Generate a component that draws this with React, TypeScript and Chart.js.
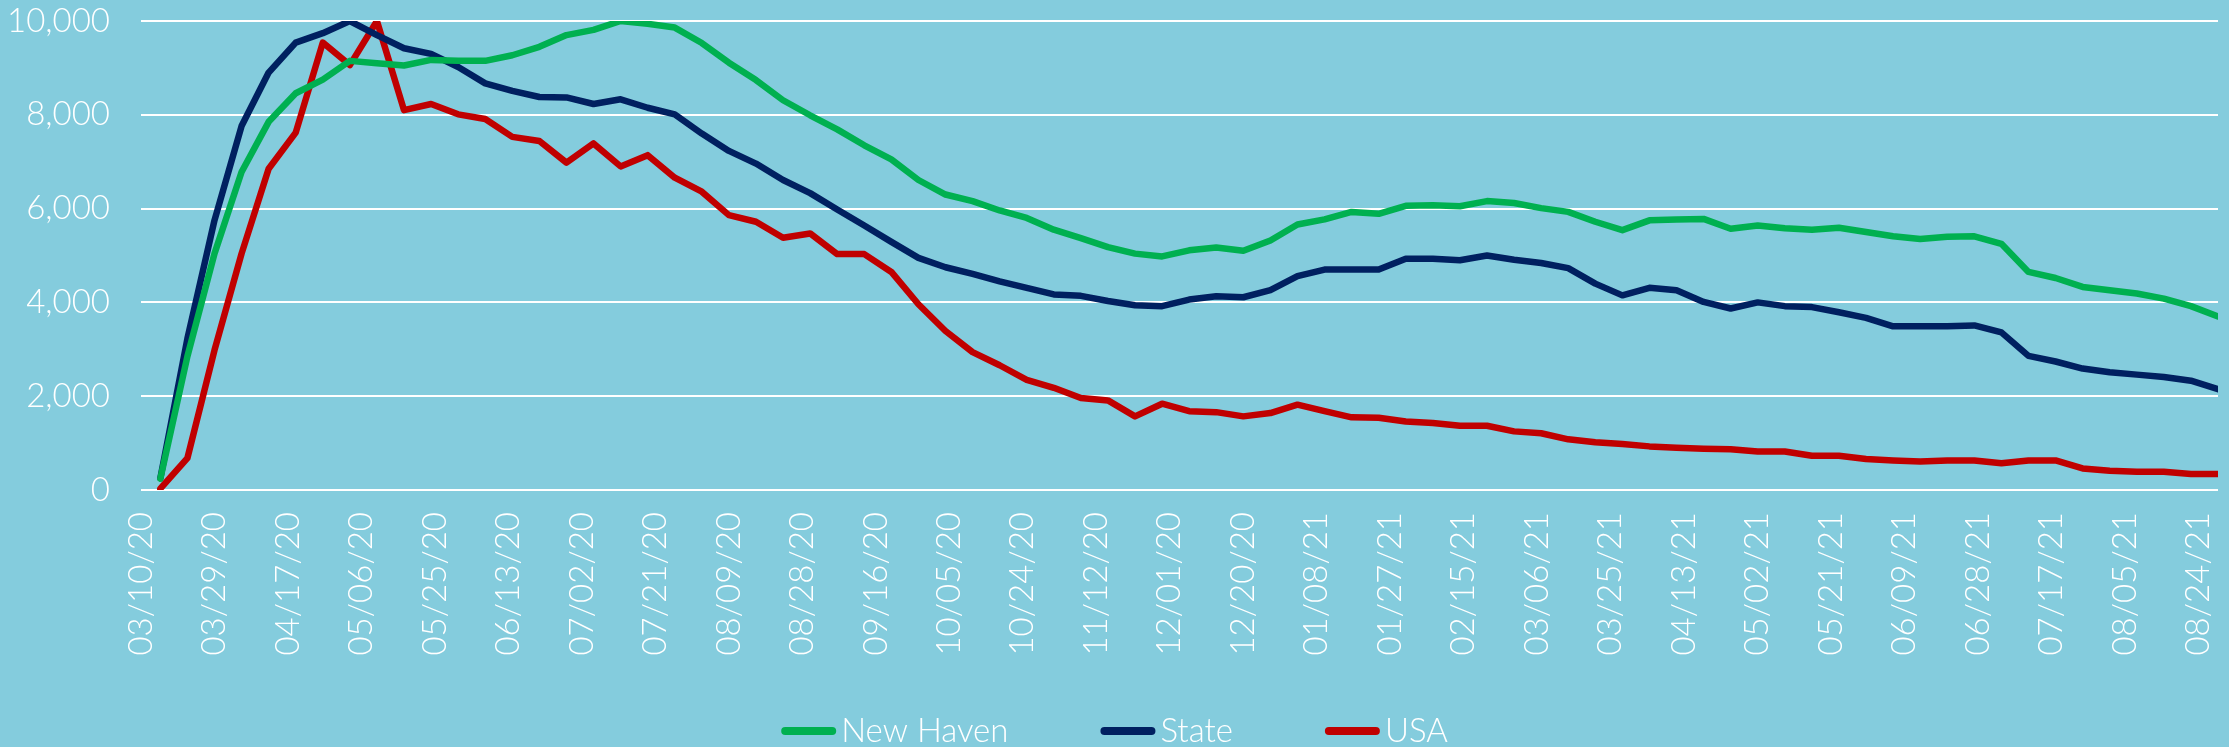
import React, { useEffect, useRef } from "react";
import { Chart, registerables } from "chart.js";

Chart.register(...registerables);

// Weekly observation dates (MM/DD/YY)
const weekDates = [
  "03/15/20", "03/22/20", "03/29/20",
  "04/05/20", "04/12/20", "04/19/20", "04/26/20",
  "05/03/20", "05/10/20", "05/17/20", "05/24/20", "05/31/20",
  "06/07/20", "06/14/20", "06/21/20", "06/28/20",
  "07/05/20", "07/12/20", "07/19/20", "07/26/20",
  "08/02/20", "08/09/20", "08/16/20", "08/23/20", "08/30/20",
  "09/06/20", "09/13/20", "09/20/20", "09/27/20",
  "10/04/20", "10/11/20", "10/18/20", "10/25/20",
  "11/01/20", "11/08/20", "11/15/20", "11/22/20", "11/29/20",
  "12/06/20", "12/13/20", "12/20/20", "12/27/20",
  "01/03/21", "01/10/21", "01/17/21", "01/24/21", "01/31/21",
  "02/07/21", "02/14/21", "02/21/21", "02/28/21",
  "03/07/21", "03/14/21", "03/21/21", "03/28/21",
  "04/04/21", "04/11/21", "04/18/21", "04/25/21",
  "05/02/21", "05/09/21", "05/16/21", "05/23/21", "05/30/21",
  "06/06/21", "06/13/21", "06/20/21", "06/27/21",
  "07/04/21", "07/11/21", "07/18/21", "07/25/21",
  "08/01/21", "08/08/21", "08/15/21", "08/22/21", "08/29/21",
];

const newHaven = [
  240, 2850, 5040, 6780, 7850, 8460, 8750, 9150, 9100, 9050,
  9170, 9150, 9150, 9270, 9450, 9700, 9810, 10000, 9940, 9860,
  9530, 9110, 8740, 8310, 7990, 7690, 7350, 7050, 6610, 6300,
  6160, 5960, 5800, 5550, 5370, 5180, 5040, 4980, 5110, 5170,
  5100, 5320, 5660, 5770, 5930, 5890, 6060, 6070, 6050, 6160,
  6120, 6010, 5930, 5720, 5540, 5750, 5770, 5780, 5570, 5640,
  5580, 5550, 5590, 5500, 5410, 5350, 5400, 5410, 5250, 4650,
  4520, 4330, 4260, 4190, 4080, 3920, 3700,
];

const stateValues = [
  250, 3230, 5750, 7760, 8900, 9540, 9740, 10000, 9700, 9420,
  9300, 9020, 8670, 8510, 8380, 8370, 8230, 8330, 8150, 8010,
  7600, 7230, 6960, 6610, 6330, 5980, 5640, 5290, 4950, 4750,
  4610, 4450, 4310, 4170, 4140, 4030, 3940, 3920, 4060, 4130,
  4110, 4260, 4560, 4700, 4700, 4700, 4930, 4930, 4900, 5000,
  4910, 4840, 4730, 4400, 4150, 4310, 4260, 4010, 3870, 4000,
  3920, 3900, 3790, 3670, 3490, 3490, 3490, 3510, 3360, 2860,
  2740, 2590, 2510, 2460, 2410, 2330, 2150,
];

const usaValues = [
  30, 680, 2980, 5040, 6850, 7620, 9540, 9060, 10000, 8100,
  8230, 8010, 7910, 7530, 7440, 6980, 7390, 6900, 7140, 6660,
  6360, 5860, 5720, 5380, 5470, 5030, 5030, 4650, 3960, 3390,
  2940, 2660, 2350, 2180, 1960, 1910, 1570, 1840, 1680, 1660,
  1570, 1640, 1820, 1680, 1550, 1540, 1460, 1430, 1370, 1370,
  1250, 1210, 1080, 1020, 980, 930, 900, 880, 870, 820,
  820, 730, 730, 660, 630, 610, 630, 630, 570, 630,
  630, 460, 410, 390, 390, 340, 340,
];

const xTickLabels = [
  "03/10/20", "03/29/20", "04/17/20", "05/06/20", "05/25/20", "06/13/20",
  "07/02/20", "07/21/20", "08/09/20", "08/28/20", "09/16/20", "10/05/20",
  "10/24/20", "11/12/20", "12/01/20", "12/20/20", "01/08/21", "01/27/21",
  "02/15/21", "03/06/21", "03/25/21", "04/13/21", "05/02/21", "05/21/21",
  "06/09/21", "06/28/21", "07/17/21", "08/05/21", "08/24/21",
];

const axisStart = "03/10/20";
const axisEnd = "08/29/21";
const yMax = 10000;
const yStep = 2000;

const seriesNames = ["New Haven", "State", "USA"];
const seriesColors = ["#00B050", "#002060", "#C00000"];

const FONT = "Lato, 'Open Sans', sans-serif";

function toUTC(s: string): number {
  const [m, d, y] = s.split("/").map(Number);
  return Date.UTC(2000 + y, m - 1, d);
}
function dayOffset(s: string): number {
  return Math.round((toUTC(s) - toUTC(axisStart)) / 86400000);
}

const legendPlugin = {
  id: "bottomLegend",
  afterDraw(chart: any) {
    const ctx = chart.ctx as CanvasRenderingContext2D;
    ctx.save();
    ctx.font = `300 33px ${FONT}`;
    const items = chart.data.datasets.map((ds: any) => ({
      label: ds.label as string,
      color: ds.borderColor as string,
      w: ctx.measureText(ds.label).width,
    }));
    const lineLen = 55;
    const gap = 5;
    const spacing = 92;
    const total =
      items.reduce((s: number, it: any) => s + lineLen + gap + it.w, 0) +
      spacing * (items.length - 1);
    let x = chart.width / 2 - total / 2;
    const y = 731;
    ctx.textBaseline = "middle";
    ctx.textAlign = "left";
    for (const it of items) {
      ctx.strokeStyle = it.color;
      ctx.lineWidth = 8;
      ctx.lineCap = "round";
      ctx.beginPath();
      ctx.moveTo(x + 4, y);
      ctx.lineTo(x + lineLen - 4, y);
      ctx.stroke();
      ctx.fillStyle = "#ffffff";
      ctx.fillText(it.label, x + lineLen + gap, y);
      x += lineLen + gap + it.w + spacing;
    }
    ctx.restore();
  },
};

export default function App() {
  const canvasRef = useRef<HTMLCanvasElement | null>(null);

  useEffect(() => {
    if (!canvasRef.current) return;
    const xs = weekDates.map(dayOffset);
    const series = [newHaven, stateValues, usaValues];
    const tickValues = xTickLabels.map(dayOffset);

    const chart = new Chart(canvasRef.current, {
      type: "line",
      data: {
        datasets: series.map((vals, i) => ({
          label: seriesNames[i],
          data: vals.map((v, k) => ({ x: xs[k], y: v })),
          borderColor: seriesColors[i],
          backgroundColor: seriesColors[i],
          borderWidth: 6.5,
          pointRadius: 0,
          tension: 0,
          borderJoinStyle: "round" as const,
          borderCapStyle: "round" as const,
          fill: false,
        })),
      },
      options: {
        animation: false,
        responsive: false,
        devicePixelRatio: 1,
        layout: { padding: { top: 21, right: 11, left: 0, bottom: 0 } },
        plugins: {
          legend: { display: false },
          tooltip: { enabled: false },
        },
        scales: {
          x: {
            type: "linear",
            min: 0,
            max: dayOffset(axisEnd),
            grid: {
              display: true,
              drawOnChartArea: false,
              drawTicks: true,
              tickLength: 22,
              tickColor: "rgba(0,0,0,0)",
              color: "rgba(0,0,0,0)",
            },
            border: { display: false },
            afterBuildTicks: (scale: any) => {
              scale.ticks = tickValues.map((v) => ({ value: v }));
            },
            afterFit: (scale: any) => {
              scale.height = 257;
              scale.paddingLeft = 0;
              scale.paddingRight = 0;
            },
            ticks: {
              autoSkip: false,
              minRotation: 90,
              maxRotation: 90,
              padding: 0,
              color: "#ffffff",
              font: { family: FONT, size: 33, weight: "300" as any },
              callback: (value: any) => {
                const idx = tickValues.indexOf(Math.round(Number(value)));
                return idx >= 0 ? xTickLabels[idx] : "";
              },
            },
          },
          y: {
            min: 0,
            max: yMax,
            grid: {
              color: "#ffffff",
              lineWidth: 2,
              drawTicks: true,
              tickLength: 31,
              tickColor: "rgba(0,0,0,0)",
            },
            border: { display: false },
            afterFit: (scale: any) => {
              scale.width = 141;
            },
            ticks: {
              stepSize: yStep,
              padding: 0,
              color: "#ffffff",
              font: { family: FONT, size: 33, weight: "300" as any },
              callback: (value: any) => Number(value).toLocaleString("en-US"),
            },
          },
        },
      },
      plugins: [legendPlugin],
    });
    return () => chart.destroy();
  }, []);

  return (
    <div
      style={{
        position: "fixed",
        left: 0,
        top: 0,
        width: 2229,
        height: 747,
        background: "#84CCDD",
      }}
    >
      <canvas ref={canvasRef} width={2229} height={747} style={{ display: "block" }} />
    </div>
  );
}
